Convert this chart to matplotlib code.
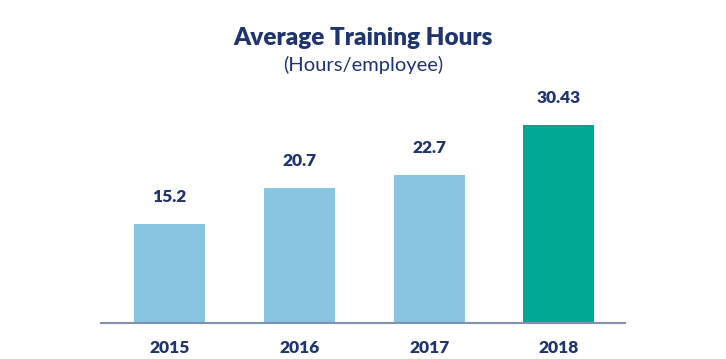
import matplotlib.pyplot as plt

years = ['2015', '2016', '2017', '2018']
hours = [15.2, 20.7, 22.7, 30.43]
value_labels = ['15.2', '20.7', '22.7', '30.43']

NAVY = '#1F356F'
LIGHT = '#87C5E1'
TEAL = '#00A893'
colors = [LIGHT, LIGHT, LIGHT, TEAL]

plt.rcParams['font.family'] = ['Lato', 'DejaVu Sans']

fig = plt.figure(figsize=(7.26, 3.59), dpi=100)
fig.patch.set_facecolor('white')
ax = fig.add_axes([0.1391, 0.1003, 0.7218, 0.6518])

x = list(range(len(years)))
ax.bar(x, hours, width=0.546, color=colors)
ax.set_xlim(-0.53, 3.51)
ax.set_ylim(0, 36)

for xi, h, lab in zip(x, hours, value_labels):
    ax.annotate(lab, (xi, h), xytext=(0, 27), textcoords='offset pixels',
                ha='center', va='center', fontsize=12.5, fontweight='heavy', color=NAVY)

ax.set_xticks(x)
ax.set_xticklabels(years, fontsize=12.5, fontweight='heavy', color=NAVY)
ax.tick_params(axis='x', length=0, pad=12)
ax.set_yticks([])
for s in ['top', 'right', 'left']:
    ax.spines[s].set_visible(False)
ax.spines['bottom'].set_color('#7F8FB5')
ax.spines['bottom'].set_linewidth(1.5)

fig.text(0.5, 1 - 38 / 359, 'Average Training Hours', ha='center', va='center',
         fontsize=17.5, fontweight='heavy', color=NAVY)
fig.text(0.5, 1 - 65 / 359, '(Hours/employee)', ha='center', va='center',
         fontsize=14.5, color=NAVY)

fig.savefig('out.png', dpi=100)
